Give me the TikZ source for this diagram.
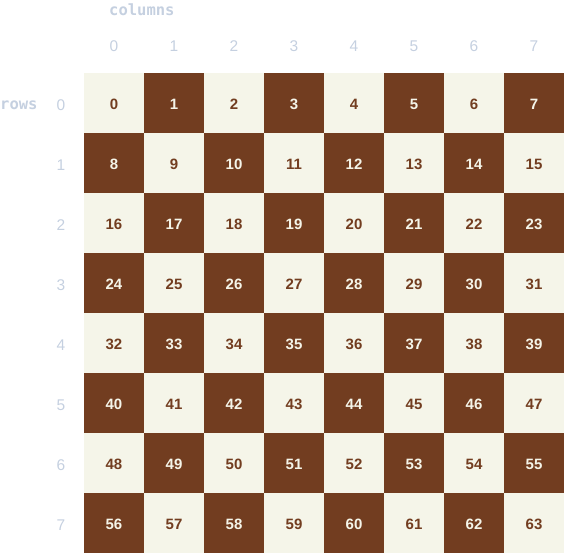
\documentclass[tikz,border=0pt]{standalone}
\usepackage{fontspec}
\setmainfont{Liberation Sans}
\newfontfamily\labmono{DejaVu Sans Mono}
\definecolor{lightsq}{HTML}{F5F5E9}
\definecolor{darksq}{HTML}{723D20}
\definecolor{labc}{HTML}{C5D0E0}
\begin{document}
\begin{tikzpicture}[x=1pt,y=-1pt,
  cell/.style={minimum width=60pt,minimum height=60pt,inner sep=0pt,outer sep=0pt},
  lightcell/.style={cell,fill=lightsq},
  darkcell/.style={cell,fill=darksq},
  num/.style={inner sep=0pt,font=\fontsize{15}{15}\selectfont\bfseries},
  idx/.style={font=\fontsize{15.5}{15.5}\selectfont,text=labc,inner sep=0pt},
  axis/.style={font=\labmono\fontsize{15.5}{15.5}\selectfont\bfseries,text=labc,inner sep=0pt}]
\useasboundingbox (0,0) rectangle (564,553);
\foreach \r in {0,...,7}{
  \foreach \c in {0,...,7}{
    \pgfmathtruncatemacro{\n}{8*\r+\c}
    \pgfmathtruncatemacro{\parity}{mod(\r+\c,2)}
    \ifnum\parity=0
      \node[lightcell] (s\n) at ({114+60*\c},{103+60*\r}) {};
      \node[num,text=darksq] (t\n) at ({114+60*\c},{104.3+60*\r}) {\n};
    \else
      \node[darkcell] (s\n) at ({114+60*\c},{103+60*\r}) {};
      \node[num,text=lightsq] (t\n) at ({114+60*\c},{104.3+60*\r}) {\n};
    \fi
  }
}
\foreach \c in {0,...,7}{
  \node[idx] (c\c) at ({114+60*\c},46) {\c};
}
\foreach \r in {0,...,7}{
  \node[idx] (r\r) at (61,{105+60*\r}) {\r};
}
\node[axis,anchor=west] (colsl) at (109,10) {columns};
\node[axis,anchor=west] (rowsl) at (0,105) {rows};
\end{tikzpicture}
\end{document}
